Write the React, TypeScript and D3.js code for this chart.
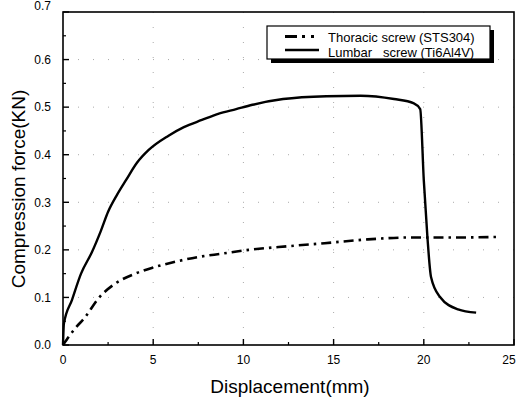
import React from "react";
import * as d3 from "d3";

const lumbarX = [0, 0.05, 0.5, 1.0, 1.6, 2.1, 2.5, 3.0, 3.5, 4.1, 4.75, 5.85, 6.7, 7.7, 8.6, 9.6, 10.5, 12.2, 14.6, 16.5, 18.35, 19.45, 19.8, 20.0, 20.2, 20.4, 20.9, 21.9, 22.9];
const lumbarY = [0, 0.045, 0.095, 0.15, 0.195, 0.24, 0.28, 0.316, 0.347, 0.383, 0.41, 0.44, 0.458, 0.473, 0.486, 0.496, 0.505, 0.517, 0.523, 0.524, 0.517, 0.508, 0.496, 0.346, 0.227, 0.143, 0.101, 0.075, 0.068];
const thoracicX = [0, 0.67, 1.22, 1.96, 2.89, 4.0, 5.1, 6.0, 7.5, 8.8, 10.3, 12.6, 14.5, 16.9, 19.3, 21.9, 24.0];
const thoracicY = [0, 0.035, 0.058, 0.098, 0.129, 0.15, 0.164, 0.173, 0.185, 0.192, 0.2, 0.208, 0.214, 0.222, 0.226, 0.226, 0.227];

const xTicks = [0, 5, 10, 15, 20, 25];
const xMinor = [2.5, 7.5, 12.5, 17.5, 22.5];
const yTicks = [0.0, 0.1, 0.2, 0.3, 0.4, 0.5, 0.6, 0.7];
const yMinor = [0.05, 0.15, 0.25, 0.35, 0.45, 0.55, 0.65];

const seriesNames = ["Thoracic screw (STS304)", "Lumbar   screw (Ti6Al4V)"];
const xLabel = "Displacement(mm)";
const yLabel = "Compression force(KN)";

export default function App() {
  const W = 517, H = 397;
  const left = 63, right = 514, top = 12, bottom = 345;
  const x = d3.scaleLinear().domain([0, 25]).range([left, right]);
  const y = d3.scaleLinear().domain([0, 0.7]).range([bottom, top]);
  const font = "Liberation Sans, Arial, sans-serif";

  const lumbar = lumbarX.map((v, i) => [v, lumbarY[i]] as [number, number]);
  const thoracic = thoracicX.map((v, i) => [v, thoracicY[i]] as [number, number]);
  const line = d3.line<[number, number]>().x(d => x(d[0])).y(d => y(d[1])).curve(d3.curveMonotoneX);

  return (
    <svg width={W} height={H} style={{ position: "absolute", left: 0, top: 0, background: "#fff" }} fontFamily={font}>
      <rect x={0} y={0} width={W} height={H} fill="#fff" />
      {/* faint grid */}
      {yTicks.slice(1, 7).map(t => (
        <line key={"gy" + t} x1={left} x2={right} y1={y(t)} y2={y(t)} stroke="#aaa" strokeWidth={1} strokeDasharray="1,14" />
      ))}
      {xTicks.slice(1, 5).map(t => (
        <line key={"gx" + t} x1={x(t)} x2={x(t)} y1={top} y2={bottom} stroke="#aaa" strokeWidth={1} strokeDasharray="1,14" />
      ))}
      {/* curves */}
      <path d={line(thoracic) || ""} fill="none" stroke="#000" strokeWidth={2.6} strokeDasharray="10,5,2.5,5" />
      <path d={line(lumbar) || ""} fill="none" stroke="#000" strokeWidth={2.4} strokeLinejoin="round" />
      {/* frame */}
      <rect x={left} y={top} width={right - left} height={bottom - top} fill="none" stroke="#000" strokeWidth={1.6} />
      {/* ticks */}
      {xTicks.map(t => (
        <line key={"xt" + t} x1={x(t)} x2={x(t)} y1={bottom} y2={bottom - 6} stroke="#000" strokeWidth={1.4} />
      ))}
      {xMinor.map(t => (
        <line key={"xm" + t} x1={x(t)} x2={x(t)} y1={bottom} y2={bottom - 3} stroke="#000" strokeWidth={1.2} />
      ))}
      {yTicks.map(t => (
        <line key={"yt" + t} x1={left} x2={left + 6} y1={y(t)} y2={y(t)} stroke="#000" strokeWidth={1.4} />
      ))}
      {yMinor.map(t => (
        <line key={"ym" + t} x1={left} x2={left + 3} y1={y(t)} y2={y(t)} stroke="#000" strokeWidth={1.2} />
      ))}
      {/* tick labels */}
      {xTicks.map(t => (
        <text key={"xl" + t} x={t === 25 ? 509 : x(t)} y={363.5} fontSize={12} textAnchor="middle" fill="#000">{t}</text>
      ))}
      {yTicks.map(t => (
        <text key={"yl" + t} x={51} y={t === 0.7 ? 10 : y(t) + 4.3} fontSize={12} textAnchor="end" fill="#000">{t.toFixed(1)}</text>
      ))}
      {/* axis titles */}
      <text x={290} y={393} fontSize={19} textAnchor="middle" fill="#000">{xLabel}</text>
      <text transform={`translate(25,189) rotate(-90)`} fontSize={19} textAnchor="middle" fill="#000">{yLabel}</text>
      {/* legend */}
      <rect x={271} y={30} width={223} height={33} fill="#000" />
      <rect x={267} y={26} width={223} height={33} fill="#fff" stroke="#000" strokeWidth={1.2} />
      <line x1={285} x2={318} y1={36.5} y2={36.5} stroke="#000" strokeWidth={2.8} strokeDasharray="12,5,3,6,3,20" />
      <line x1={285} x2={319} y1={50} y2={50} stroke="#000" strokeWidth={2.4} />
      <text x={328} y={41.5} fontSize={13} fill="#000" style={{ whiteSpace: "pre" }}>{seriesNames[0]}</text>
      <text x={328} y={56.5} fontSize={13} fill="#000" style={{ whiteSpace: "pre" }}>{seriesNames[1]}</text>
    </svg>
  );
}
